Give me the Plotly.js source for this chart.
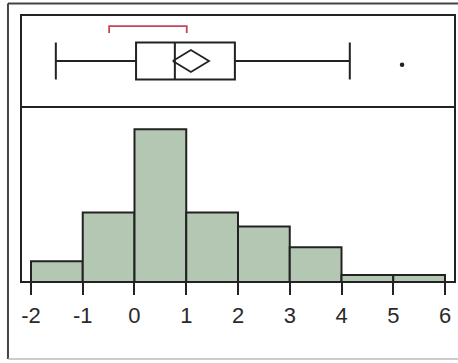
<!DOCTYPE html>
<html>
<head>
<meta charset="utf-8">
<script src="https://cdn.plot.ly/plotly-3.0.1.min.js"></script>
<style>
  html, body { margin: 0; padding: 0; background: #fff; }
  #chart { width: 458px; height: 363px; }
</style>
</head>
<body>
<div id="chart"></div>
<script>
// histogram bins (left edges, width 1) and counts
const binEdges = [-2, -1, 0, 1, 2, 3, 4, 5];
const binCounts = [3, 10, 22, 10, 8, 5, 1, 1];
const tickVals = [-2, -1, 0, 1, 2, 3, 4, 5, 6];

// outlier box plot summary
const whiskerLow = [-1.52];
const quartile1 = [0.03];
const medianVal = [0.78];
const quartile3 = [1.94];
const whiskerHigh = [4.16];
const outliers = [5.17];
const meanVal = 1.09;
const meanCI = [0.74, 1.44];
const shortestHalf = [-0.49, 1.01];

const BAR_FILL = '#b4c7b2';
const INK = '#222';

const binCenters = binEdges.map(e => e + 0.5);

// diamond for the mean and its confidence interval
const diamondX = [meanCI[0], meanVal, meanCI[1], meanVal, meanCI[0]];
const diamondY = [0, 0.24, 0, -0.24, 0];

// bracket for the shortest half
const bracketX = [shortestHalf[0], shortestHalf[0], shortestHalf[1], shortestHalf[1]];
const bracketY = [0.61, 0.76, 0.76, 0.61];

const traces = [
  {
    type: 'bar',
    x: binCenters,
    y: binCounts,
    width: 1,
    marker: { color: BAR_FILL, line: { color: INK, width: 2 } },
    hoverinfo: 'none',
    xaxis: 'x', yaxis: 'y'
  },
  {
    type: 'box',
    orientation: 'h',
    y: [0],
    q1: quartile1,
    median: medianVal,
    q3: quartile3,
    lowerfence: whiskerLow,
    upperfence: whiskerHigh,
    boxpoints: false,
    width: 0.8,
    whiskerwidth: 1,
    fillcolor: 'rgba(0,0,0,0)',
    line: { color: INK, width: 2 },
    hoverinfo: 'none',
    xaxis: 'x', yaxis: 'y2'
  },
  {
    type: 'scatter',
    mode: 'lines',
    x: diamondX,
    y: diamondY,
    line: { color: INK, width: 1.8 },
    hoverinfo: 'none',
    xaxis: 'x', yaxis: 'y2'
  },
  {
    type: 'scatter',
    mode: 'lines',
    x: bracketX,
    y: bracketY,
    line: { color: '#c0485a', width: 1.8 },
    hoverinfo: 'none',
    xaxis: 'x', yaxis: 'y2'
  },
  {
    type: 'scatter',
    mode: 'markers',
    x: outliers,
    y: [-0.08],
    marker: { color: INK, size: 4.5 },
    hoverinfo: 'none',
    xaxis: 'x', yaxis: 'y2'
  }
];

const split = 175 / 267;

const layout = {
  width: 458,
  height: 363,
  margin: { l: 21, r: 3, t: 15, b: 81 },
  paper_bgcolor: '#fff',
  plot_bgcolor: '#fff',
  showlegend: false,
  bargap: 0,
  font: { family: 'Liberation Sans, Arial, sans-serif', color: '#333' },
  xaxis: {
    range: [-2.193, 6.193],
    tickmode: 'array',
    tickvals: tickVals,
    ticktext: tickVals.map(String),
    ticks: 'outside',
    ticklen: 12,
    tickwidth: 2,
    tickcolor: INK,
    ticklabelstandoff: 2,
    tickfont: { size: 22, color: '#2a2a2a' },
    showgrid: false,
    zeroline: false,
    showline: false,
    anchor: 'y'
  },
  yaxis: {
    domain: [0, split],
    range: [0, 25.2],
    showticklabels: false,
    showgrid: false,
    zeroline: false,
    ticks: '',
    anchor: 'x'
  },
  yaxis2: {
    domain: [split, 1],
    range: [-1, 1],
    showticklabels: false,
    showgrid: false,
    zeroline: false,
    ticks: '',
    anchor: 'x'
  },
  shapes: [
    // inner frame
    { type: 'rect', xref: 'paper', yref: 'paper', x0: 0, x1: 1, y0: 0, y1: 1,
      line: { color: INK, width: 2 }, fillcolor: 'rgba(0,0,0,0)' },
    // separator between box plot and histogram
    { type: 'line', xref: 'paper', yref: 'paper', x0: 0, x1: 1, y0: split, y1: split,
      line: { color: INK, width: 2 } },
    // outer frame
    { type: 'line', xref: 'paper', yref: 'paper', x0: -0.03, x1: -0.03, y0: -0.288, y1: 1.043,
      line: { color: '#444', width: 2 } },
    { type: 'line', xref: 'paper', yref: 'paper', x0: -0.03, x1: 1.1, y0: 1.043, y1: 1.043,
      line: { color: '#444', width: 2 } },
    { type: 'line', xref: 'paper', yref: 'paper', x0: -0.03, x1: 1.1, y0: -0.288, y1: -0.288,
      line: { color: '#bbb', width: 1.5 } }
  ]
};

Plotly.newPlot('chart', traces, layout, { displayModeBar: false, staticPlot: true });
</script>
</body>
</html>
